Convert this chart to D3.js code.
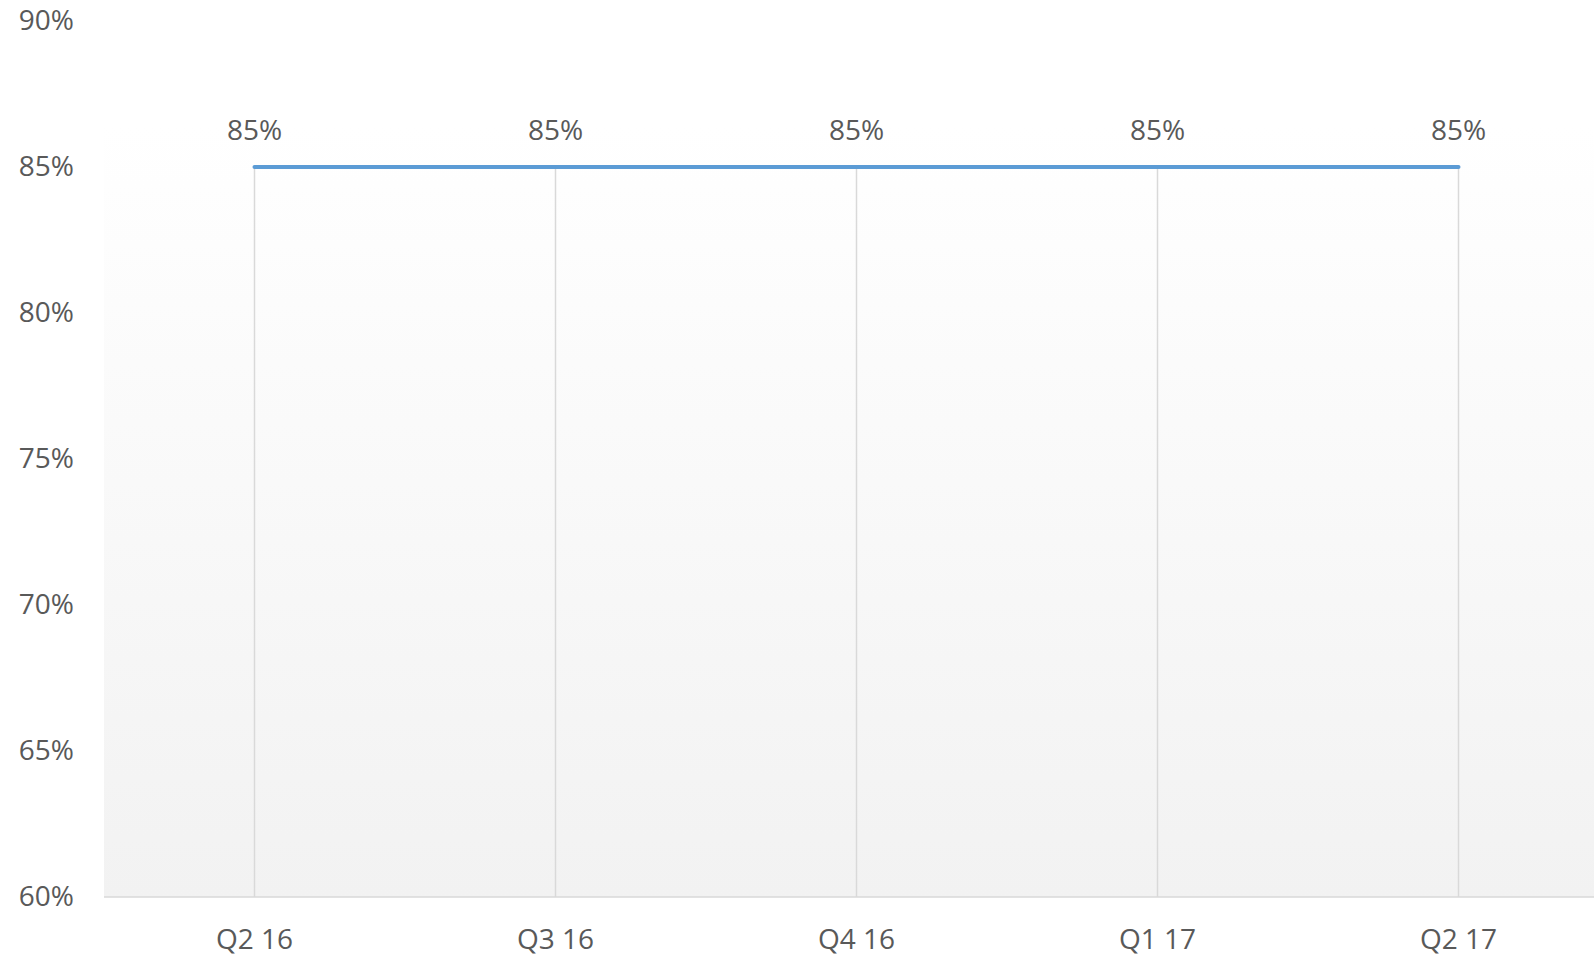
<!DOCTYPE html>
<html>
<head>
<meta charset="utf-8">
<script src="https://cdn.jsdelivr.net/npm/d3@7"></script>
<style>
  html, body { margin: 0; padding: 0; background: #ffffff; }
  svg { display: block; }
  text { font-family: "Open Sans", sans-serif; fill: #595959; }
</style>
</head>
<body>
<svg id="chart" width="1594" height="959"></svg>
<script>
// Quarterly share, as a fraction
const categories = ["Q2 16", "Q3 16", "Q4 16", "Q1 17", "Q2 17"];
const values = [0.85, 0.85, 0.85, 0.85, 0.85];
const yTicks = [0.60, 0.65, 0.70, 0.75, 0.80, 0.85, 0.90];

const W = 1594, H = 959;
const plot = { left: 104, top: 21, bottom: 897, band: 301 };
const fontSize = 28;

const svg = d3.select("#chart");

const x = d3.scaleBand()
  .domain(categories)
  .range([plot.left, plot.left + plot.band * categories.length])
  .padding(0);
const cx = d => x(d) + x.bandwidth() / 2;

const y = d3.scaleLinear()
  .domain([0.60, 0.90])
  .range([plot.bottom, plot.top]);

const pct = d3.format(".0%");

// Plot-area fill: white at the top fading to light grey at the axis
const defs = svg.append("defs");
const grad = defs.append("linearGradient")
  .attr("id", "plotFill")
  .attr("x1", 0).attr("y1", 0).attr("x2", 0).attr("y2", 1);
grad.append("stop").attr("offset", "0%").attr("stop-color", "#ffffff");
grad.append("stop").attr("offset", "12%").attr("stop-color", "#ffffff");
grad.append("stop").attr("offset", "100%").attr("stop-color", "#f2f2f2");

svg.append("rect")
  .attr("x", plot.left)
  .attr("y", plot.top)
  .attr("width", W - plot.left)
  .attr("height", plot.bottom - plot.top)
  .attr("fill", "url(#plotFill)");

// Drop lines from each point down to the category axis
svg.append("g")
  .selectAll("line")
  .data(categories)
  .join("line")
  .attr("x1", d => cx(d))
  .attr("x2", d => cx(d))
  .attr("y1", (d, i) => y(values[i]))
  .attr("y2", y(0.60))
  .attr("stroke", "#d9d9d9")
  .attr("stroke-width", 1.5);

// Category axis line
svg.append("line")
  .attr("x1", plot.left)
  .attr("x2", W)
  .attr("y1", y(0.60))
  .attr("y2", y(0.60))
  .attr("stroke", "#d9d9d9")
  .attr("stroke-width", 1.5);

// Value axis labels
const yAxis = d3.axisLeft(y)
  .tickValues(yTicks)
  .tickFormat(pct)
  .tickSize(0)
  .tickPadding(0);
const yg = svg.append("g")
  .attr("transform", `translate(74,0)`)
  .call(yAxis);
yg.select(".domain").remove();
yg.selectAll("text")
  .attr("font-size", fontSize)
  .attr("font-family", "'Open Sans', sans-serif")
  .attr("fill", "#595959");

// Category axis labels
const xAxis = d3.axisBottom(x).tickSize(0).tickPadding(0);
const xg = svg.append("g")
  .attr("transform", `translate(0,${plot.bottom})`)
  .call(xAxis);
xg.select(".domain").remove();
xg.selectAll("text")
  .attr("dy", null)
  .attr("y", 52)
  .attr("font-size", fontSize)
  .attr("font-family", "'Open Sans', sans-serif")
  .attr("fill", "#595959");

// Series line
const line = d3.line()
  .x((d, i) => cx(categories[i]))
  .y(d => y(d));
svg.append("path")
  .datum(values)
  .attr("d", line)
  .attr("fill", "none")
  .attr("stroke", "#5b9bd5")
  .attr("stroke-width", 4)
  .attr("stroke-linecap", "round")
  .attr("stroke-linejoin", "round");

// Data labels
svg.append("g")
  .selectAll("text")
  .data(values)
  .join("text")
  .attr("x", (d, i) => cx(categories[i]))
  .attr("y", d => y(d) - 27)
  .attr("text-anchor", "middle")
  .attr("font-size", fontSize)
  .text(d => pct(d));
</script>
</body>
</html>
